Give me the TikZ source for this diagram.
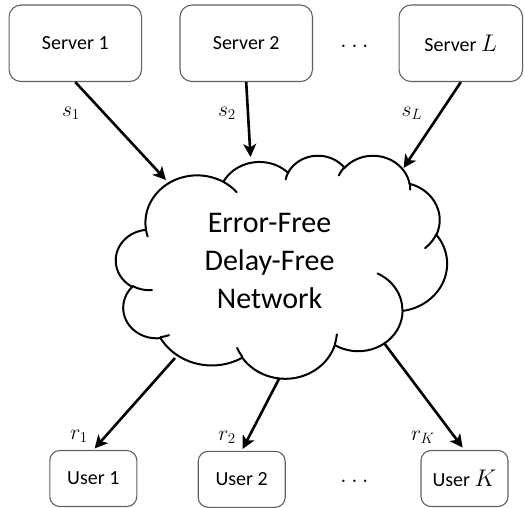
\documentclass[tikz,border=0pt]{standalone}
\usepackage{graphicx}
\usepackage{fontspec}
\setmainfont{Carlito}
\usetikzlibrary{arrows.meta}
\newcommand\scmath[2]{\scalebox{#1}{$#2$}}
\tikzset{
  box/.style={draw=black!62, line width=1.1pt, rounded corners=12pt, fill=white, inner sep=0pt, font=\fontsize{20}{24}\selectfont},
  srvbox/.style={box, minimum height=76.5pt},
  usrbox/.style={box, rounded corners=10pt, minimum width=87pt, minimum height=56pt},
  flow/.style={line width=2.6pt, -{Stealth[length=13pt,width=13pt,inset=3.5pt]}},
  lab/.style={font=\fontsize{17.28}{21}\selectfont, inner sep=0pt},
  dotlab/.style={font=\fontsize{25}{30}\selectfont, inner sep=0pt},
  cloudline/.style={line width=2pt, line cap=round},
  nettext/.style={font=\fontsize{30}{36}\selectfont, anchor=base, inner sep=0pt},
  declare function={pa(\w,\h,\a)=atan2((\w)*sin(\a),(\h)*cos(\a));},
  oarc/.style n args={4}{insert path={arc[start angle={-pa(#1,#2,#3)}, end angle={-pa(#1,#2,#3)-mod(pa(#1,#2,(#3)+(#4))-pa(#1,#2,#3)+720,360)}, x radius={(#1)*0.7662pt}, y radius={(#2)*0.5162pt}]}}
}
\begin{document}
\begin{tikzpicture}[x=1pt,y=-1pt]
\useasboundingbox[fill=white] (0,0) rectangle (525,508);

% cloud
\begin{scope}[shift={(116,155)}, x=0.7662pt, y=-0.5162pt]
\draw[cloudline, fill=white] (39.00,143.70) coordinate (J0)
  [oarc={67.53}{91.90}{-190.4875}{123.7805}]
  [oarc={53.33}{72.67}{-144.1024}{89.9452}]
  [oarc={43.65}{59.45}{-145.8079}{99.7230}]
  [oarc={48.57}{65.95}{-130.9861}{117.2417}]
  [oarc={53.33}{72.73}{-78.7089}{109.0269}]
  [oarc={67.75}{92.20}{-46.2673}{130.2690}]
  [oarc={57.85}{78.67}{0.6250}{114.0333}]
  [oarc={67.52}{92.15}{22.4516}{115.1726}]
  [oarc={77.20}{105.43}{66.2426}{75.7110}]
  [oarc={43.60}{59.18}{-274.9421}{146.7356}]
  [oarc={43.45}{59.45}{-246.8285}{152.5189}]
  -- cycle;
\draw[cloudline] (46.93,261.77) [oarc={43.45}{59.45}{86.7420}{26.4295}];
\draw[cloudline] (69.28,348.99) [oarc={43.60}{59.18}{73.6105}{11.4475}];
\draw[cloudline] (164.78,390.90) [oarc={67.52}{92.15}{137.6242}{14.0811}];
\draw[cloudline] (288.27,347.51) [oarc={67.52}{92.15}{6.4533}{15.9984}];
\draw[cloudline] (341.29,229.54) [oarc={57.85}{78.67}{-70.2924}{70.9174}];
\draw[cloudline] (417.98,153.54) [oarc={53.33}{72.73}{30.3180}{27.7515}];
\draw[cloudline] (383.24,54.26) [oarc={48.57}{65.95}{-13.7443}{14.8589}];
\draw[cloudline] (290.78,39.52) [oarc={48.57}{65.95}{-149.1815}{18.1954}];
\draw[cloudline] (221.41,47.20) [oarc={43.65}{59.45}{-163.4943}{17.6864}];
\draw[cloudline] (140.00,51.92) [oarc={67.53}{91.90}{-66.7035}{17.81}];
\draw[cloudline] (41.27,157.89) [oarc={67.53}{91.90}{-202.3}{11.8}];
\end{scope}

\node[nettext] (net1) at (269.5,233) {Error-Free};
\node[nettext] (net2) at (269.5,270.5) {Delay-Free};
\node[nettext] (net3) at (269.5,308) {Network};

% servers
\node[srvbox, minimum width=132.5pt] (srv1) at (75.3,43.3) {Server 1};
\node[srvbox, minimum width=132.5pt] (srv2) at (246.2,43.3) {Server 2};
\node[srvbox, minimum width=123.5pt] (srvL) at (460.8,43.3) {Server \scmath{1.16}{L}};
\node[dotlab] (dots1) at (354.5,46) {$\ldots$};

% users
\node[usrbox] (usr1) at (93.3,478.5) {User 1};
\node[usrbox] (usr2) at (241.7,479.3) {User 2};
\node[usrbox] (usrK) at (464.5,478.5) {User \scmath{1.16}{K}};
\node[dotlab] (dots2) at (354.5,481) {$\ldots$};

% arrow ends at the cloud
\coordinate (in1) at (166,180);
\coordinate (in2) at (250.5,157);
\coordinate (inL) at (403.5,168);
\coordinate (out1) at (175,358);
\coordinate (out2) at (279.3,378.3);
\coordinate (outK) at (384,343);

\draw[flow] (srv1.south) -- (in1);
\draw[flow] (srv2.south) -- (in2);
\draw[flow] (srvL.south) -- (inL);
\draw[flow, shorten >=2pt] (out1) -- (usr1.north);
\draw[flow, shorten >=2pt] (out2) -- (usr2.north);
\draw[flow, shorten >=3pt] (outK) -- (usrK.north);

\node[lab] (ls1) at (71,113) {\scmath{1.25}{s_1}};
\node[lab] (ls2) at (227,113) {\scmath{1.25}{s_2}};
\node[lab] (lsL) at (412,113) {\scmath{1.25}{s_L}};
\node[lab] (lr1) at (79,436) {\scmath{1.25}{r_1}};
\node[lab] (lr2) at (227,437) {\scmath{1.25}{r_2}};
\node[lab] (lrK) at (423,437) {\scmath{1.25}{r_K}};
\end{tikzpicture}
\end{document}
